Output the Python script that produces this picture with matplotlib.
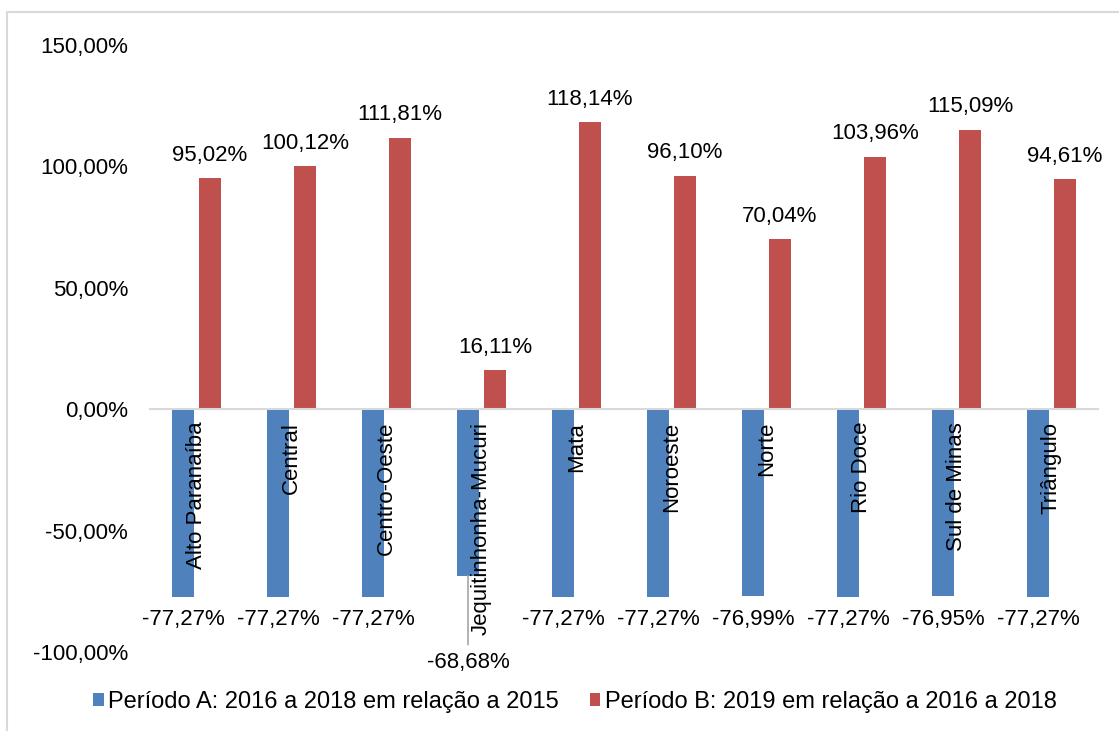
import numpy as np
import matplotlib
matplotlib.use('Agg')
import matplotlib.pyplot as plt
from matplotlib.patches import Rectangle

regions = ['Alto Paranaíba', 'Central', 'Centro-Oeste', 'Jequitinhonha-Mucuri', 'Mata',
           'Noroeste', 'Norte', 'Rio Doce', 'Sul de Minas', 'Triângulo']
periodo_a = [-77.27, -77.27, -77.27, -68.68, -77.27, -77.27, -76.99, -77.27, -76.95, -77.27]
periodo_b = [95.02, 100.12, 111.81, 16.11, 118.14, 96.10, 70.04, 103.96, 115.09, 94.61]
label_a = 'Período A: 2016 a 2018 em relação a 2015'
label_b = 'Período B: 2019 em relação a 2016 a 2018'
yticks = [-100, -50, 0, 50, 100, 150]

BLUE = '#4F81BD'
RED = '#C0504D'
FS = 16


def pct(v):
    return f'{v:.2f}%'.replace('.', ',')


plt.rcParams['font.family'] = ['Liberation Sans', 'DejaVu Sans']

fig = plt.figure(figsize=(11.19, 7.31), dpi=100)
W, H = 1119, 731
# outer frame of the original chart area
fig.patches.append(Rectangle((7 / W, -0.1), 1.2, 1 - 12 / H + 0.1, transform=fig.transFigure,
                             fill=False, edgecolor='#D9D9D9', linewidth=1.5))

ax = fig.add_axes([149 / W, 1 - 652 / H, 950 / W, 607 / H])
x = np.arange(len(regions))
w = 0.23
off = 0.142
ax.bar(x - off, periodo_a, w, color=BLUE, label=label_a)
ax.bar(x + off, periodo_b, w, color=RED, label=label_b)

ax.set_xlim(-0.5, len(regions) - 0.5)
ax.set_ylim(-100, 150)
ax.set_yticks(yticks)
ax.set_yticklabels([pct(t) for t in yticks], fontsize=FS)
ax.tick_params(axis='y', length=0, pad=15)
ax.set_xticks([])
for s in ['top', 'right', 'left', 'bottom']:
    ax.spines[s].set_visible(False)
ax.axhline(0, color='#D9D9D9', linewidth=1.5, zorder=3)

# category names, rotated, hanging under the zero line
for xi, name in zip(x, regions):
    ax.annotate(name, (xi, 0), xytext=(0, -9), textcoords='offset points',
                rotation=90, ha='center', va='top', fontsize=FS, zorder=4)

# value labels
for xi, v in zip(x, periodo_a):
    if v > -70:
        ax.annotate(pct(v), (xi - off, v), xytext=(0, -62), textcoords='offset points',
                    ha='center', va='center', fontsize=FS,
                    arrowprops=dict(arrowstyle='-', color='#A6A6A6', lw=1.2,
                                    shrinkA=3, shrinkB=0))
    else:
        ax.annotate(pct(v), (xi - off, v), xytext=(0, -9), textcoords='offset points',
                    ha='center', va='top', fontsize=FS)
for xi, v in zip(x, periodo_b):
    ax.annotate(pct(v), (xi + off, v), xytext=(0, 9), textcoords='offset points',
                ha='center', va='bottom', fontsize=FS)

fig.legend(loc='center', bbox_to_anchor=(575 / W, 1 - 702 / H), ncol=2, frameon=False,
           fontsize=17, handlelength=0.45, handleheight=0.45, handletextpad=0.2,
           columnspacing=1.3)

fig.savefig('out.png', dpi=100)
